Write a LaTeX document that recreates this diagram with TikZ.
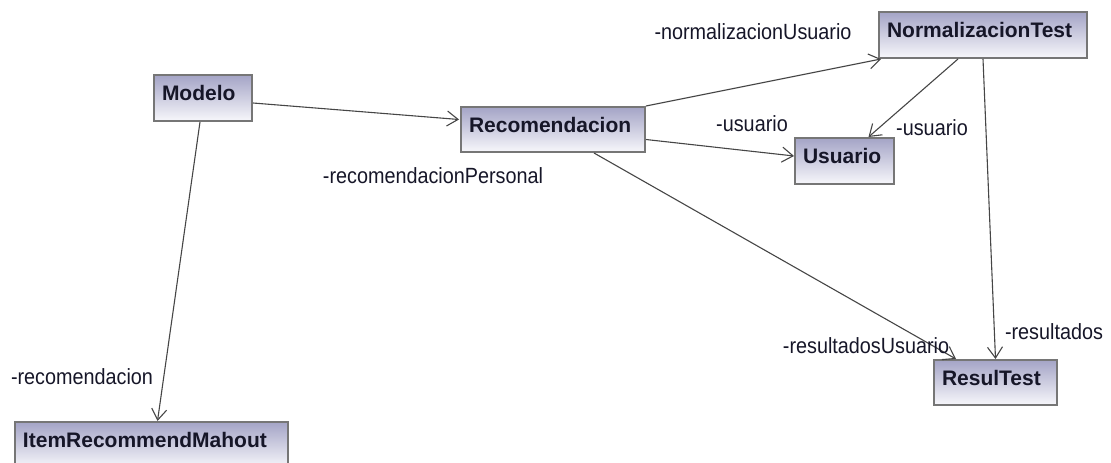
\documentclass[tikz,border=0pt]{standalone}
\usepackage{fontspec}
\setmainfont{Liberation Sans}
\usetikzlibrary{arrows.meta,calc}

\definecolor{boxtop}{RGB}{164,164,198}
\definecolor{boxbottom}{RGB}{247,247,251}
\definecolor{boxline}{RGB}{118,118,118}
\definecolor{wire}{RGB}{70,70,70}
\definecolor{ink}{RGB}{22,22,40}

\tikzset{
  umlbox/.style={draw=boxline, line width=2, top color=boxtop, bottom color=boxbottom,
    anchor=north west, inner xsep=8, inner ysep=0, align=left,
    text height=25, text depth=#1, text=ink,
    font=\fontsize{21}{24}\selectfont\bfseries},
  umlbox/.default=21,
  role/.style={text=ink, inner sep=0, xscale=0.9,
    font=\fontsize{22}{24}\selectfont},
  assoc/.style={draw=wire, line width=1.1,
    -{Straight Barb[length=11,width=15,line width=1.1]}}
}

\begin{document}
\begin{tikzpicture}[x=1pt,y=-1pt]
  \useasboundingbox (0,0) rectangle (1111,463);
  \clip (0,0) rectangle (1111,463);

  % classes
  \node[umlbox, minimum width=98, minimum height=46, text width=82] (modelo) at (153,74) {Modelo};
  \node[umlbox=20, minimum width=184, minimum height=45, text width=168] (recom) at (460,106) {Recomendacion};
  \node[umlbox, minimum width=208, minimum height=46, text width=192] (norm) at (878,11) {NormalizacionTest};
  \node[umlbox, minimum width=99, minimum height=46, text width=83] (usuario) at (794,137) {Usuario};
  \node[umlbox=20, minimum width=123, minimum height=45, text width=107] (resul) at (933,359) {ResulTest};
  \node[umlbox, minimum width=273, minimum height=46, text width=257] (item) at (14,421) {ItemRecommendMahout};

  % associations
  \draw[assoc] ($(modelo.east)+(0,5)$) -- ($(recom.west)+(-1,-10)$);
  \draw[assoc] ($(modelo.south)+(-3,0)$) -- ($(item.north)+(6,0)$);
  \draw[assoc] ($(recom.north east)+(0,0)$) -- ($(norm.south west)+(3,0)$);
  \draw[assoc] ($(recom.east)+(0,10)$) -- ($(usuario.west)+(0,-5)$);
  \draw[assoc] ($(norm.south)+(-25,0)$) -- ($(usuario.north)+(24,0)$);
  \draw[assoc] ($(norm.south)+(0,0)$) -- ($(resul.north)+(0,0)$);
  \draw[assoc] ($(recom.south)+(41,0)$) -- ($(resul.north west)+(23,0)$);

  % role names
  \node[role] (r-normusr) at (753,32) {-normalizacionUsuario};
  \node[role] (r-usr1) at (752,124) {-usuario};
  \node[role] (r-usr2) at (932,128) {-usuario};
  \node[role] (r-recpers) at (433,176) {-recomendacionPersonal};
  \node[role] (r-recom) at (82,377) {-recomendacion};
  \node[role] (r-resusr) at (866,346) {-resultadosUsuario};
  \node[role] (r-res) at (1054,332) {-resultados};
\end{tikzpicture}
\end{document}
